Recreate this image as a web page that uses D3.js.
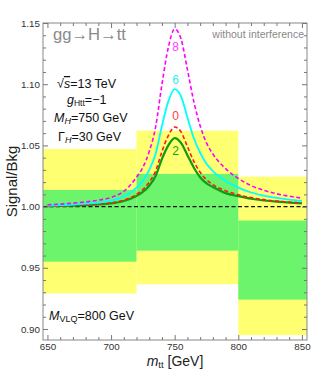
<!DOCTYPE html>
<html><head><meta charset="utf-8">
<script src="https://cdn.jsdelivr.net/npm/d3@7"></script>
<style>
body{margin:0;background:#fff;}
text{font-family:"Liberation Sans",Arial,sans-serif;}
</style></head>
<body><svg id="c" width="313" height="376"></svg>
<script>
// ---- data ----
const mass = [650,660,670,680,690,700,710,720,725,730,735,740,745,750,755,760,765,770,775,780,790,800,810,820,830,840,850];
const curve8 = [1.0015,1.0020,1.0028,1.0038,1.0052,1.0075,1.0125,1.0240,1.0320,1.0450,1.0650,1.1000,1.1300,1.1450,1.1370,1.1120,1.0860,1.0660,1.0520,1.0430,1.0310,1.0230,1.0172,1.0133,1.0105,1.0085,1.0069];
const curve6 = [1.0008,1.0012,1.0017,1.0024,1.0033,1.0048,1.0082,1.0155,1.0210,1.0300,1.0430,1.0660,1.0860,1.0960,1.0900,1.0730,1.0560,1.0440,1.0350,1.0290,1.0210,1.0155,1.0115,1.0090,1.0071,1.0057,1.0046];
const curve0 = [1.0005,1.0007,1.0010,1.0014,1.0020,1.0030,1.0053,1.0100,1.0140,1.0200,1.0290,1.0450,1.0580,1.0650,1.0610,1.0490,1.0370,1.0280,1.0220,1.0180,1.0130,1.0097,1.0073,1.0057,1.0045,1.0037,1.0031];
const curve2 = [1.0004,1.0006,1.0008,1.0012,1.0017,1.0026,1.0046,1.0087,1.0120,1.0170,1.0250,1.0390,1.0500,1.0560,1.0520,1.0420,1.0320,1.0240,1.0190,1.0160,1.0110,1.0085,1.0064,1.0050,1.0040,1.0033,1.0027];
const curveLabels = ["8","6","0","2"];
const labelValues = [1.127,1.100,1.071,1.042];
const binLo = [640,720,800];
const binHi = [720,800,860];
const yellowLo = [0.929,0.9365,0.895];
const yellowHi = [1.047,1.062,1.0245];
const greenLo = [0.955,0.964,0.924];
const greenHi = [1.0136,1.0267,0.9886];
const xTicks = [650,700,750,800,850];
const yTicks = [0.90,0.95,1.00,1.05,1.10,1.15];

// ---- layout ----
const L=43,R=307,T=23,B=340;
const svg = d3.select("#c");
const x = d3.scaleLinear().domain([646.5,854]).range([L,R]);
const y = d3.scaleLinear().domain([0.891,1.15]).range([B,T]);

svg.append("defs").append("clipPath").attr("id","clip")
  .append("rect").attr("x",L).attr("y",T).attr("width",R-L).attr("height",B-T);
const g = svg.append("g").attr("clip-path","url(#clip)");

// bands
const bins = d3.range(binLo.length);
g.selectAll("rect.yel").data(bins).join("rect").attr("class","yel")
  .attr("x",i=>x(binLo[i])).attr("width",i=>x(binHi[i])-x(binLo[i]))
  .attr("y",i=>y(yellowHi[i])).attr("height",i=>y(yellowLo[i])-y(yellowHi[i]))
  .attr("fill","#ffff72");
g.selectAll("rect.grn").data(bins).join("rect").attr("class","grn")
  .attr("x",i=>x(binLo[i])).attr("width",i=>x(binHi[i])-x(binLo[i]))
  .attr("y",i=>y(greenHi[i])).attr("height",i=>y(greenLo[i])-y(greenHi[i]))
  .attr("fill","#6cf56c");

// reference line
g.append("line").attr("x1",L).attr("x2",R).attr("y1",y(1)).attr("y2",y(1))
  .attr("stroke","#111").attr("stroke-width",1.2).attr("stroke-dasharray","4,2.5");

const line = d3.line().x((d,i)=>x(mass[i])).y(d=>y(d)).curve(d3.curveMonotoneX);
const series = [
  {v:curve2,c:"#129a12",w:2.2,dash:null},
  {v:curve0,c:"#ff1a1a",w:1.6,dash:"4,2.5"},
  {v:curve6,c:"#00ffff",w:1.8,dash:null},
  {v:curve8,c:"#ff00ff",w:1.6,dash:"4,2.5"}
];
series.forEach(s=>{
  g.append("path").attr("d",line(s.v)).attr("fill","none")
   .attr("stroke",s.c).attr("stroke-width",s.w)
   .attr("stroke-dasharray",s.dash);
});
const labColors = ["#ff40ff","#33eeee","#ff4040","#1aa01a"];
curveLabels.forEach((t,i)=>{
  svg.append("text").attr("x",x(750)+1).attr("y",y(labelValues[i]))
   .attr("text-anchor","middle").attr("font-size",12).attr("fill",labColors[i]).text(t);
});

// frame
svg.append("rect").attr("x",L).attr("y",T).attr("width",R-L).attr("height",B-T)
  .attr("fill","none").attr("stroke","#888").attr("stroke-width",1);

// axes
const xMinor = d3.range(650,851,10).filter(v=>v%50!==0);
const yMinor = d3.range(0,26).map(i=>+(0.90+i*0.01).toFixed(2)).filter(v=>Math.round(v*100)%5!==0);
function styleAx(sel){ sel.select(".domain").remove(); sel.selectAll("line").attr("stroke","#777");
  sel.selectAll("text").attr("fill","#333").attr("font-size",9.8).attr("font-family","Liberation Sans, Arial, sans-serif"); }
svg.append("g").attr("transform",`translate(0,${B})`).call(d3.axisBottom(x).tickValues(xTicks).tickSize(-5).tickPadding(3).tickFormat(d3.format("d"))).call(styleAx);
svg.append("g").attr("transform",`translate(0,${B})`).call(d3.axisBottom(x).tickValues(xMinor).tickSize(-3).tickFormat("")).call(styleAx);
svg.append("g").attr("transform",`translate(0,${T})`).call(d3.axisTop(x).tickValues(xTicks).tickSize(-5).tickFormat("")).call(styleAx);
svg.append("g").attr("transform",`translate(0,${T})`).call(d3.axisTop(x).tickValues(xMinor).tickSize(-3).tickFormat("")).call(styleAx);
svg.append("g").attr("transform",`translate(${L},0)`).call(d3.axisLeft(y).tickValues(yTicks).tickSize(-5).tickPadding(3).tickFormat(d3.format(".2f"))).call(styleAx);
svg.append("g").attr("transform",`translate(${L},0)`).call(d3.axisLeft(y).tickValues(yMinor).tickSize(-3).tickFormat("")).call(styleAx);
svg.append("g").attr("transform",`translate(${R},0)`).call(d3.axisRight(y).tickValues(yTicks).tickSize(-5).tickFormat("")).call(styleAx);
svg.append("g").attr("transform",`translate(${R},0)`).call(d3.axisRight(y).tickValues(yMinor).tickSize(-3).tickFormat("")).call(styleAx);

// axis titles
svg.append("text").attr("transform",`translate(17,${(T+B)/2}) rotate(-90)`)
  .attr("text-anchor","middle").attr("font-size",15).attr("fill","#222").text("Signal/Bkg");
const xt = svg.append("text").attr("x",175).attr("y",366).attr("text-anchor","middle").attr("font-size",14).attr("fill","#222");
xt.append("tspan").attr("font-style","italic").text("m");
xt.append("tspan").attr("font-size",9.5).attr("dy",2).text("tt");
xt.append("tspan").attr("dy",-2).text(" [GeV]");

// annotations
svg.append("text").attr("x",53).attr("y",40).attr("font-size",17).attr("fill","#8a8a8a")
  .attr("textLength",73).attr("lengthAdjust","spacingAndGlyphs").text("gg→H→tt");
svg.append("text").attr("x",304).attr("y",38).attr("text-anchor","end").attr("font-size",10.5).attr("fill","#888").text("without interference");

const t1 = svg.append("text").attr("x",57).attr("y",88).attr("font-size",12.5).attr("fill","#111");
t1.append("tspan").text("√");
t1.append("tspan").attr("font-style","italic").attr("text-decoration","overline").text("s");
t1.append("tspan").text("=13 TeV");

const t2 = svg.append("text").attr("x",67).attr("y",104).attr("font-size",12.5).attr("fill","#111");
t2.append("tspan").attr("font-style","italic").text("g");
t2.append("tspan").attr("font-size",8.5).attr("dy",2).text("Htt");
t2.append("tspan").attr("dy",-2).text("=−1");

const t3 = svg.append("text").attr("x",54).attr("y",122).attr("font-size",12.5).attr("fill","#111");
t3.append("tspan").attr("font-style","italic").text("M");
t3.append("tspan").attr("font-size",9).attr("font-style","italic").attr("dy",2).text("H");
t3.append("tspan").attr("dy",-2).text("=750 GeV");

const t4 = svg.append("text").attr("x",58).attr("y",141).attr("font-size",12.5).attr("fill","#111");
t4.append("tspan").text("Γ");
t4.append("tspan").attr("font-size",9).attr("font-style","italic").attr("dy",2).text("H");
t4.append("tspan").attr("dy",-2).text("=30 GeV");

const t5 = svg.append("text").attr("x",49).attr("y",320).attr("font-size",12.5).attr("fill","#111");
t5.append("tspan").attr("font-style","italic").text("M");
t5.append("tspan").attr("font-size",9).attr("dy",2).text("VLQ");
t5.append("tspan").attr("dy",-2).text("=800 GeV");
</script></body></html>
